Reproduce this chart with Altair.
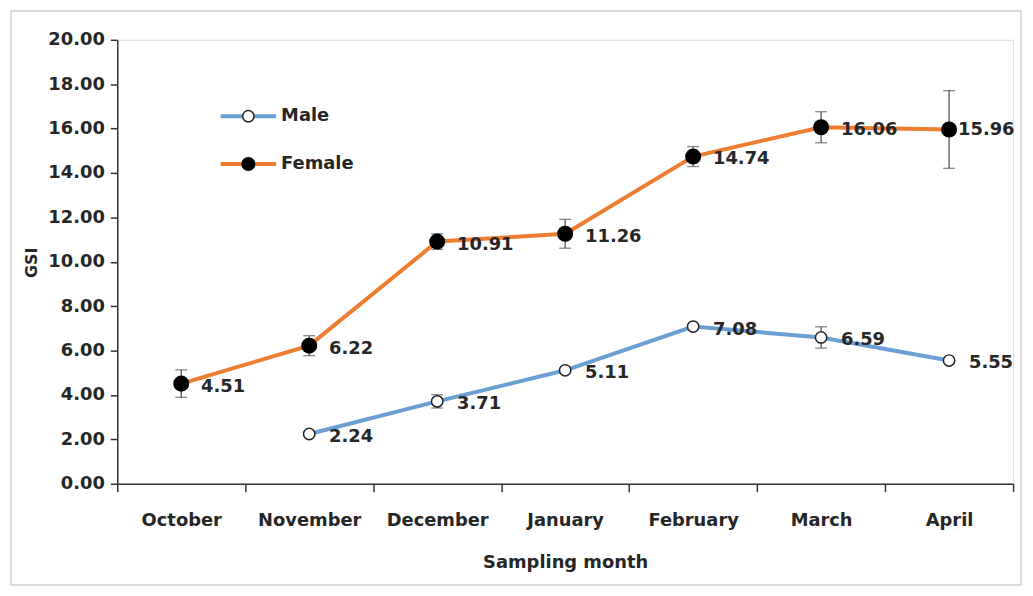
import altair as alt
import pandas as pd

months = ["October", "November", "December", "January", "February", "March", "April"]
female = [4.51, 6.22, 10.91, 11.26, 14.74, 16.06, 15.96]
female_err = [0.62, 0.45, 0.35, 0.65, 0.45, 0.70, 1.75]
male_months = ["November", "December", "January", "February", "March", "April"]
male = [2.24, 3.71, 5.11, 7.08, 6.59, 5.55]
male_err = [0.10, 0.30, 0.10, 0.10, 0.48, 0.10]

FONT = "DejaVu Sans"
MALE_C = "#6A9FD3"
FEMALE_C = "#ED7D31"

rows = []
for m, v, e in zip(months, female, female_err):
    rows.append({"month": m, "series": "Female", "gsi": v, "lo": v - e, "hi": v + e,
                 "label": f"{v:.2f}"})
for m, v, e in zip(male_months, male, male_err):
    rows.append({"month": m, "series": "Male", "gsi": v, "lo": v - e, "hi": v + e,
                 "label": f"{v:.2f}"})
df = pd.DataFrame(rows)

xenc = alt.X(
    "month:N", sort=months, bandPosition=0.5,
    scale=alt.Scale(type="band", domain=months, paddingInner=0, paddingOuter=0),
    axis=alt.Axis(title="Sampling month", tickBand="extent", labelAngle=0,
                  labelFont=FONT, labelFontSize=18, labelFontWeight="bold", labelColor="#262626",
                  titleFont=FONT, titleFontSize=18, titleFontWeight="bold", titleColor="#262626",
                  domainColor="#333", domainWidth=1.5, tickColor="#333", tickWidth=1.5,
                  tickSize=8, labelPadding=20, titlePadding=24, grid=False),
)
yenc = alt.Y(
    "gsi:Q",
    scale=alt.Scale(domain=[0, 20], nice=False),
    axis=alt.Axis(title="GSI", values=list(range(0, 21, 2)), format=".2f",
                  labelFont=FONT, labelFontSize=18, labelFontWeight="bold", labelColor="#262626",
                  titleFont=FONT, titleFontSize=16, titleFontWeight="bold", titleColor="#262626",
                  titleX=-78, titleY=224, titleAngle=270,
                  domainColor="#333", domainWidth=1.5, tickColor="#333", tickWidth=1.5,
                  tickSize=7, labelPadding=6, grid=False),
)
color = alt.Color("series:N", scale=alt.Scale(domain=["Male", "Female"], range=[MALE_C, FEMALE_C]),
                  legend=None)

base = alt.Chart(df)

lines = base.mark_line(strokeWidth=4).encode(x=xenc, y=yenc, color=color, detail="series:N")
err = base.mark_rule(color="#555", strokeWidth=1.3).encode(x=xenc, y="lo:Q", y2="hi:Q")
err_hi = base.mark_tick(color="#555", thickness=1.3, size=12).encode(x=xenc, y="hi:Q")
err_lo = base.mark_tick(color="#555", thickness=1.3, size=12).encode(x=xenc, y="lo:Q")
pts_m = base.transform_filter("datum.series == 'Male'").mark_point(
    shape="circle", filled=True, fill="white", stroke="#222", strokeWidth=1.5, size=130, opacity=1
).encode(x=xenc, y=yenc)
pts_f = base.transform_filter("datum.series == 'Female'").mark_point(
    shape="circle", filled=True, fill="black", stroke="black", size=200, opacity=1
).encode(x=xenc, y=yenc)

txt_main = base.transform_filter("!(datum.series == 'Female' && datum.month == 'April')").mark_text(
    align="left", baseline="middle", dx=20, dy=3, font=FONT, fontSize=18, fontWeight="bold", color="#262626"
).encode(x=xenc, y=yenc, text="label:N")
txt_apr = base.transform_filter("datum.series == 'Female' && datum.month == 'April'").mark_text(
    align="left", baseline="middle", dx=9, dy=1, font=FONT, fontSize=18, fontWeight="bold", color="#262626"
).encode(x=xenc, y=yenc, text="label:N")

# legend (decoration)
leg_names = ["Male", "Female"]
leg_colors = [MALE_C, FEMALE_C]
leg_y = [77, 125]
legend_layers = []
for name, c, yy in zip(leg_names, leg_colors, leg_y):
    d = pd.DataFrame({"name": [name]})
    lc = alt.Chart(d)
    legend_layers.append(lc.mark_rule(color=c, strokeWidth=4).encode(
        x=alt.value(104), x2=alt.value(160), y=alt.value(yy)))
    if name == "Male":
        legend_layers.append(lc.mark_point(shape="circle", filled=True, fill="white", stroke="#222",
                                           strokeWidth=1.5, size=130, opacity=1).encode(
            x=alt.value(132), y=alt.value(yy)))
    else:
        legend_layers.append(lc.mark_point(shape="circle", filled=True, fill="black", size=200,
                                           opacity=1).encode(x=alt.value(132), y=alt.value(yy)))
    legend_layers.append(lc.mark_text(align="left", baseline="middle", font=FONT, fontSize=18,
                                      fontWeight="bold", color="#262626").encode(
        x=alt.value(165), y=alt.value(yy), text="name:N"))

border = alt.Chart(pd.DataFrame({"a": [0]})).mark_rect(
    fill=None, stroke="#d0d0d0", strokeWidth=1.5
).encode(x=alt.value(-107), x2=alt.value(910), y=alt.value(-29), y2=alt.value(549))

chart = alt.layer(
    border, lines, err, err_hi, err_lo, pts_m, pts_f, txt_main, txt_apr, *legend_layers
).properties(
    width=902, height=447,
    autosize=alt.AutoSizeParams(type="none"),
    padding={"left": 110, "top": 30, "right": 12, "bottom": 106},
).configure_view(stroke=None).configure(background="white")

chart.save("out.html", embed_options={"renderer": "svg", "actions": False})
